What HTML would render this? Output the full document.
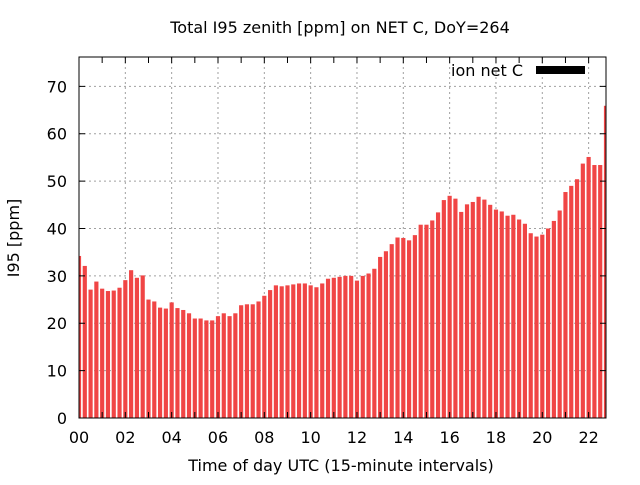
<!DOCTYPE html>
<html><head><meta charset="utf-8"><style>
body{margin:0;background:#fff;}
svg text{font-family:"DejaVu Sans","Liberation Sans",sans-serif;fill:#000;}
</style></head><body>
<svg id="chart" width="640" height="480" xmlns="http://www.w3.org/2000/svg">
<text x="340" y="33" font-size="16" text-anchor="middle">Total I95 zenith [ppm] on NET C, DoY=264</text>
<text x="341" y="471" font-size="16" text-anchor="middle">Time of day UTC (15-minute intervals)</text>
<text transform="translate(19,238) rotate(-90)" font-size="16" text-anchor="middle">I95 [ppm]</text>
<g id="grid"></g>
<g id="bars"></g>
<g id="axes"></g>
<text x="523" y="76" font-size="16" text-anchor="end">ion net C</text>
<rect x="536" y="66" width="49" height="8" fill="#000"/>
</svg>
<script>
const values=[34.2,32.1,27.1,28.8,27.3,26.8,26.9,27.5,29.1,31.2,29.6,30.1,
25.0,24.6,23.3,23.1,24.4,23.2,22.8,22.1,21.0,21.0,20.6,20.6,
21.5,22.1,21.5,22.1,23.8,24.0,24.0,24.6,25.8,
27.0,28.0,27.8,28.0,28.2,28.4,28.4,28.0,27.6,28.4,29.4,29.6,29.8,30.0,30.0,
29.0,30.0,30.5,31.5,34.0,35.2,36.7,38.1,38.0,37.5,38.6,
40.8,40.8,41.7,43.4,46.0,46.9,46.3,43.5,45.1,45.6,46.7,46.1,
45.0,44.0,43.6,42.7,42.9,41.9,41.0,39.0,38.3,38.7,40.0,41.6,
43.8,47.7,49.0,50.4,53.7,55.1,53.4,53.4,65.9];
const yTicks=[0,10,20,30,40,50,60,70];
const xTickLabels=["00","02","04","06","08","10","12","14","16","18","20","22"];
const L=79,R=606,T=57,B=418,XMAX=22.75,YMAX=76.2;
const xs=h=>L+(h/XMAX)*(R-L);
const ys=v=>B-(v/YMAX)*(B-T);
const NS="http://www.w3.org/2000/svg";
function mk(tag,attrs,parent){const e=document.createElementNS(NS,tag);for(const k in attrs)e.setAttribute(k,attrs[k]);document.getElementById(parent).appendChild(e);return e;}
const defsClip=mk("clipPath",{id:"clip"},"chart");
const cr=document.createElementNS(NS,"rect");cr.setAttribute("x",L);cr.setAttribute("y",T);cr.setAttribute("width",R-L);cr.setAttribute("height",B-T);defsClip.appendChild(cr);
document.getElementById("bars").setAttribute("clip-path","url(#clip)");
yTicks.forEach(v=>{
  if(v>0){const g=mk("line",{x1:L,x2:R,y1:ys(v),y2:ys(v),stroke:"#a0a0a0","stroke-dasharray":"2,3"},"grid");
  
  }
  const t=mk("text",{x:L-12,y:ys(v)+6,"font-size":"16","text-anchor":"end"},"axes");t.textContent=v;
  
  
  mk("line",{x1:L,x2:L+6,y1:ys(v),y2:ys(v),stroke:"#000"},"axes");
  mk("line",{x1:R,x2:R-6,y1:ys(v),y2:ys(v),stroke:"#000"},"axes");
});
xTickLabels.forEach(s=>{
  const h=parseInt(s,10),x=xs(h);
  if(h>0){const g=mk("line",{x1:x,x2:x,y1:T,y2:B,stroke:"#a0a0a0","stroke-dasharray":"2,3"},"grid");
  
  }
  const t=mk("text",{x:x,y:B+25,"font-size":"16","text-anchor":"middle"},"axes");t.textContent=s;
  
  
});
for(let h=0;h<=22;h++){const x=xs(h);
  mk("line",{x1:x,x2:x,y1:B,y2:B-6,stroke:"#000"},"axes");
  mk("line",{x1:x,x2:x,y1:T,y2:T+6,stroke:"#000"},"axes");}
const step=(R-L)/(values.length-1),bw=step*0.72;
values.forEach((v,i)=>{
  const x=xs(i*0.25);
  const b=mk("rect",{x:x-bw/2,y:ys(v),width:bw,height:B-ys(v),fill:"#f04545"},"bars");
  
  
});
const f=mk("rect",{x:L,y:T,width:R-L,height:B-T,fill:"none",stroke:"#000","stroke-width":"1"},"axes");


</script>
</body></html>
